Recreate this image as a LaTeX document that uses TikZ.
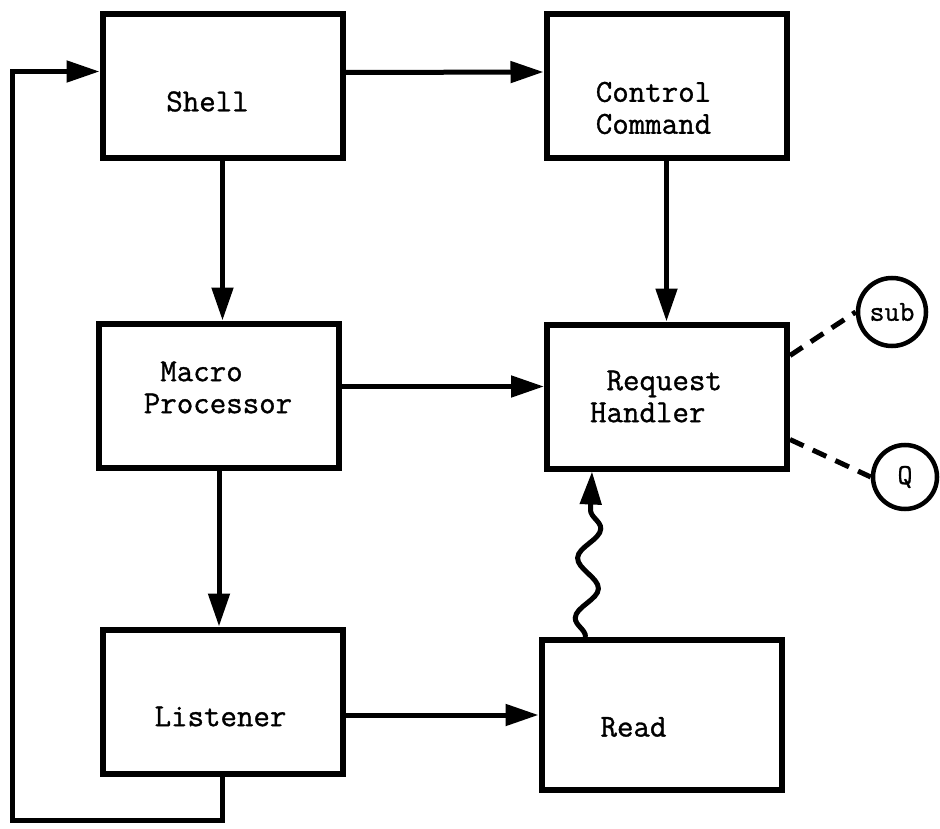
\documentclass[tikz,border=0pt]{standalone}
\usepackage{fontspec}
\newfontfamily\typer{Latin Modern Mono}[FakeBold=1]
\usetikzlibrary{arrows.meta,decorations.pathmorphing,positioning}

\begin{document}
\begin{tikzpicture}[x=1pt,y=-1pt,
    block/.style={draw,line width=6pt,minimum width=240pt,minimum height=144pt},
    tag/.style={align=left,font=\fontsize{32}{32}\selectfont\typer},
    store/.style={draw,circle,line width=4.5pt,inner sep=0pt,
      font=\fontsize{29}{30}\selectfont\typer},
    flow/.style={line width=5pt,line join=miter,-{Triangle[length=33pt,width=21pt]}},
    link/.style={line width=5pt,dash pattern=on 15pt off 10pt}]
            \useasboundingbox (0,0) rectangle (940,829);

            \node[block,label={[tag,xshift=-15pt,yshift=-15pt]center:Shell}] (shell) at (222.5,86.5) {};
            \node[block,label={[tag,xshift=-13pt,yshift=-22pt]center:Control\\Command}] (ctrl) at (666.5,86) {};
            \node[block,label={[tag,xshift=-1pt,yshift=8pt]center:~Macro\\Processor}] (macro) at (219,395.5) {};
            \node[block,label={[tag,xshift=-11pt]center:~Request\\Handler}] (req) at (667,396.5) {};
            \node[block,label={[tag,xshift=-2pt,yshift=-15pt]center:Listener}] (listen) at (222.5,701.5) {};
            \node[block,minimum height=150pt,label={[tag,xshift=-28pt,yshift=-12pt]center:Read}] (read) at (661.5,715) {};
            \node[store,minimum size=68pt] (sub) at (892,312) {sub};
            \node[store,minimum size=64pt] (q)   at (905,477) {Q};
            \coordinate (loop) at (12,820);

            \draw[flow] ([yshift=14pt]shell.east) -- ([yshift=14pt]ctrl.west);
            \draw[flow] (shell.south) -- (shell.south |- macro.north);
            \draw[flow] (ctrl.south) -- (ctrl.south |- req.north);
            \draw[flow] ([yshift=9pt]macro.east) -- ([yshift=9pt]macro.east -| req.west);
            \draw[flow] (macro.south) -- (macro.south |- listen.north);
            \draw[flow] (read.west -| listen.east) -- (read.west);
            \draw[flow] (listen.south) |- (loop) |- ([yshift=15pt]shell.west);
            \draw[flow,decorate,decoration={snake,amplitude=11pt,segment length=60pt,post length=36pt}]
                ([xshift=-76pt]read.north) -- ([xshift=-75pt]req.south);
            \draw[link] ([yshift=41pt]req.east) -- (sub.west);
            \draw[link] ([yshift=-43pt]req.east) -- (q.west);
        \end{tikzpicture}
\end{document}
